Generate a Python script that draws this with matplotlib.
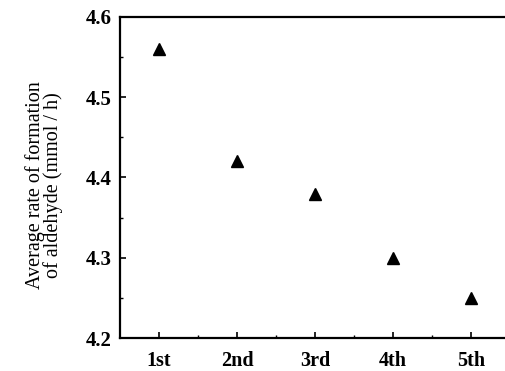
import numpy as np
import matplotlib
matplotlib.use("Agg")
import matplotlib.pyplot as plt
from matplotlib.ticker import MultipleLocator, FixedLocator

# tasa promedio de formacion de aldehido por ciclo
ciclos = ["1st", "2nd", "3rd", "4th", "5th"]
tasa = [4.56, 4.42, 4.38, 4.30, 4.25]

plt.rcParams["font.family"] = ["Liberation Serif", "DejaVu Serif"]

fig = plt.figure(figsize=(5.06, 3.71), dpi=100)
ax = fig.add_axes([120 / 506, 33 / 371, 390 / 506, 321 / 371])

x = np.arange(1, len(ciclos) + 1)
ax.plot(x, tasa, linestyle="none", marker="^", markersize=8.5,
        color="black", clip_on=False)

ax.set_xlim(0.5, 5.5)
ax.set_ylim(4.2, 4.6)

ax.xaxis.set_major_locator(FixedLocator(x))
ax.xaxis.set_minor_locator(FixedLocator(x[:-1] + 0.5))
ax.set_xticklabels(ciclos, fontsize=14.5, fontweight="bold")
ax.yaxis.set_major_locator(MultipleLocator(0.1))
ax.yaxis.set_minor_locator(MultipleLocator(0.05))
ax.set_yticks([4.2, 4.3, 4.4, 4.5, 4.6])
ax.set_yticklabels(["4.2", "4.3", "4.4", "4.5", "4.6"], fontsize=15,
                   fontweight="bold")

ax.tick_params(which="major", direction="in", length=4.5, width=1.2, pad=6)
ax.tick_params(axis="x", which="major", pad=9)
ax.tick_params(which="minor", direction="in", length=2.5, width=1.0)
ax.tick_params(axis="x", which="both", top=False)
ax.tick_params(axis="y", which="both", right=False)

for lado in ["left", "top", "bottom"]:
    ax.spines[lado].set_linewidth(1.6)
ax.spines["right"].set_visible(False)

fig.text(44 / 506, 1 - 185 / 371,
         "Average rate of formation\nof aldehyde (mmol / h)",
         rotation=90, ha="center", va="center", fontsize=14.5,
         linespacing=0.85)

fig.savefig("out.png", dpi=100)
